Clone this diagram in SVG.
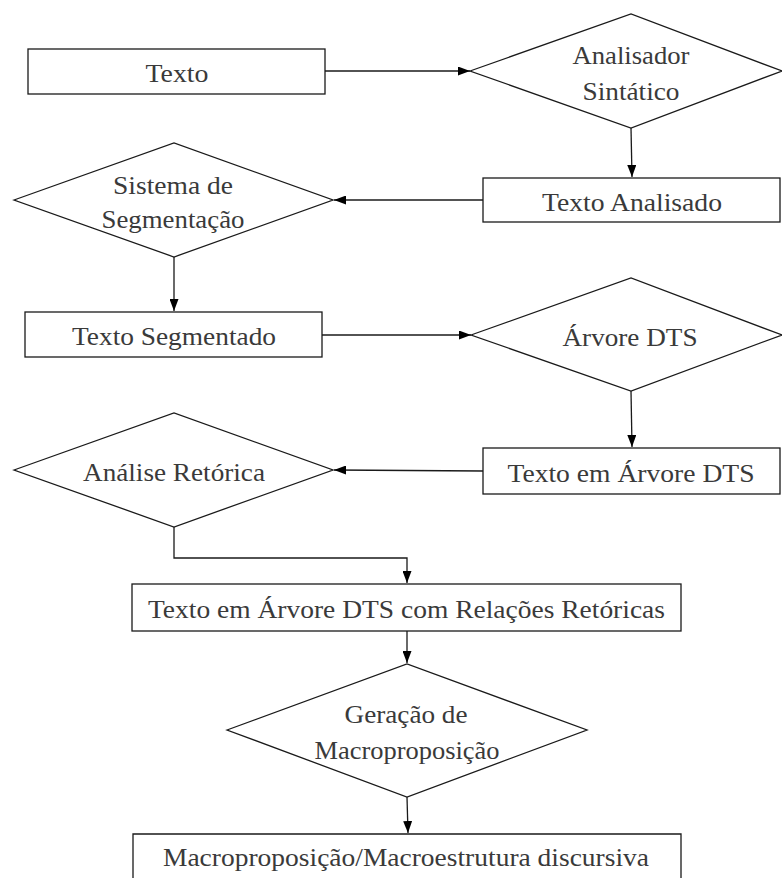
<svg xmlns="http://www.w3.org/2000/svg" width="782" height="878" viewBox="0 0 782 878">
  <style>
    .box { fill: #ffffff; stroke: #1a1a1a; stroke-width: 1.3; }
    .dia { fill: #ffffff; stroke: #1a1a1a; stroke-width: 1.3; }
    .lbl { font-family: 'Liberation Serif', 'Times New Roman', serif; font-size: 26px; fill: #3a3a3a; text-anchor: middle; }
    .edge { fill: none; stroke: #1a1a1a; stroke-width: 1.3; marker-end: url(#arrow); }
  </style>
  <defs>
    <marker id="arrow" markerUnits="userSpaceOnUse" markerWidth="13" markerHeight="9" refX="12" refY="4.5" orient="auto">
      <path d="M0,0 L12,4.5 L0,9 Z" fill="#000000"/>
    </marker>
  </defs>
  <rect width="782" height="878" fill="#ffffff"/>

  <g id="connectors">
    <path class="edge" d="M325,71 L470,71"/>
    <path class="edge" d="M631,128 L632,177"/>
    <path class="edge" d="M483,200 L334,200"/>
    <path class="edge" d="M174,257 L174,311"/>
    <path class="edge" d="M322,335 L471,335"/>
    <path class="edge" d="M631,391 L632,447"/>
    <path class="edge" d="M483,471 L334,470"/>
    <path class="edge" d="M174,527 L174,558 L407,558 L407,583"/>
    <path class="edge" d="M407,631 L407,663"/>
    <path class="edge" d="M407,797 L408,833"/>
  </g>

  <g id="texto">
    <rect class="box" x="28" y="49" width="297" height="45"/>
    <text class="lbl" x="177" y="82" textLength="63" lengthAdjust="spacingAndGlyphs">Texto</text>
  </g>

  <g id="analisador-sintatico">
    <polygon class="dia" points="470,71 631,14 782,71 631,128"/>
    <text class="lbl" x="631" y="64" textLength="117" lengthAdjust="spacingAndGlyphs">Analisador</text>
    <text class="lbl" x="631" y="100" textLength="97" lengthAdjust="spacingAndGlyphs">Sintático</text>
  </g>

  <g id="texto-analisado">
    <rect class="box" x="483" y="178" width="297" height="44"/>
    <text class="lbl" x="632" y="211" textLength="180" lengthAdjust="spacingAndGlyphs">Texto Analisado</text>
  </g>

  <g id="sistema-segmentacao">
    <polygon class="dia" points="14,200 174,143 333,200 174,257"/>
    <text class="lbl" x="173" y="194" textLength="120" lengthAdjust="spacingAndGlyphs">Sistema de</text>
    <text class="lbl" x="173" y="228" textLength="143" lengthAdjust="spacingAndGlyphs">Segmentação</text>
  </g>

  <g id="texto-segmentado">
    <rect class="box" x="25" y="312" width="297" height="45"/>
    <text class="lbl" x="174" y="345" textLength="204" lengthAdjust="spacingAndGlyphs">Texto Segmentado</text>
  </g>

  <g id="arvore-dts">
    <polygon class="dia" points="471,335 631,278 782,335 631,391"/>
    <text class="lbl" x="630" y="346" textLength="135" lengthAdjust="spacingAndGlyphs">Árvore DTS</text>
  </g>

  <g id="texto-arvore-dts">
    <rect class="box" x="483" y="448" width="297" height="46"/>
    <text class="lbl" x="631" y="482" textLength="247" lengthAdjust="spacingAndGlyphs">Texto em Árvore DTS</text>
  </g>

  <g id="analise-retorica">
    <polygon class="dia" points="14,470 174,413 333,470 174,527"/>
    <text class="lbl" x="174" y="481" textLength="182" lengthAdjust="spacingAndGlyphs">Análise Retórica</text>
  </g>

  <g id="texto-relacoes-retoricas">
    <rect class="box" x="132" y="584" width="549" height="47"/>
    <text class="lbl" x="406.5" y="618" textLength="517" lengthAdjust="spacingAndGlyphs">Texto em Árvore DTS com Relações Retóricas</text>
  </g>

  <g id="geracao-macroproposicao">
    <polygon class="dia" points="227,730 407,664 587,730 407,797"/>
    <text class="lbl" x="406" y="723" textLength="123" lengthAdjust="spacingAndGlyphs">Geração de</text>
    <text class="lbl" x="407" y="759" textLength="185" lengthAdjust="spacingAndGlyphs">Macroproposição</text>
  </g>

  <g id="macroestrutura">
    <path class="box" d="M133,890 L133,834 L681,834 L681,890"/>
    <text class="lbl" x="406" y="866" textLength="486" lengthAdjust="spacingAndGlyphs">Macroproposição/Macroestrutura discursiva</text>
  </g>
</svg>
